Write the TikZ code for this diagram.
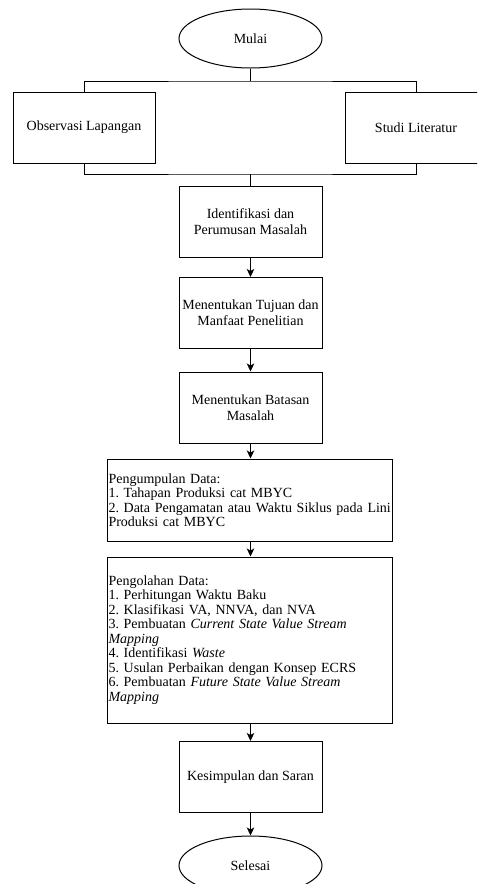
\documentclass[tikz,border=0pt]{standalone}
\usepackage{fontspec}
\setmainfont{Liberation Serif}
\usetikzlibrary{arrows.meta,shapes.geometric}
\begin{document}
\begin{tikzpicture}[x=1pt,y=-1pt,
  every node/.style={font=\fontsize{14}{16}\selectfont\frenchspacing},
  box/.style={draw, line width=1pt, minimum width=143pt, minimum height=71pt, align=center, inner sep=0pt},
  widebox/.style={draw, line width=1pt, minimum width=285pt, text width=283pt, inner xsep=1pt, inner ysep=0pt, align=left, font=\fontsize{14}{14.5}\selectfont\frenchspacing},
  term/.style={draw, ellipse, line width=1pt, minimum width=143pt, minimum height=59pt, inner sep=0pt},
  conn/.style={line width=1pt},
  arr/.style={line width=1pt, -{Stealth[length=8pt,width=7.5pt,inset=2pt]}}
]
\clip (0,0) rectangle (477,884);

\node[term] (mulai) at (250.5,38.5) {Mulai};
\node[box, minimum width=142pt] (obs) at (84,127.5) {Observasi Lapangan};
\node[box, minimum width=142pt] (studi) at (416,127.5) {Studi Literatur};
\node[box] (ident) at (250.5,222) {Identifikasi dan\\Perumusan Masalah};
\node[box] (tujuan) at (250.5,313) {Menentukan Tujuan dan\\Manfaat Penelitian};
\node[box] (batasan) at (250.5,407.5) {Menentukan Batasan\\Masalah};
\node[widebox, minimum height=82pt] (kumpul) at (250,500) {Pengumpulan Data:\\
1. Tahapan Produksi cat MBYC\\
2. Data Pengamatan atau Waktu Siklus pada Lini\\
Produksi cat MBYC};
\node[widebox, minimum height=166pt] (olah) at (250,640) {Pengolahan Data:\\
1. Perhitungan Waktu Baku\\
2. Klasifikasi VA, NNVA, dan NVA\\
3. Pembuatan \textit{Current State Value Stream}\\
\textit{Mapping}\\
4. Identifikasi \textit{Waste}\\
5. Usulan Perbaikan dengan Konsep ECRS\\
6. Pembuatan \textit{Future State Value Stream}\\
\textit{Mapping}};
\node[box] (simpul) at (250.5,777) {Kesimpulan dan Saran};
\node[term] (selesai) at (250.5,865.5) {Selesai};

\coordinate (j1) at (250.5,81);
\coordinate (j2) at (250.5,174);
\draw[conn] (mulai.south) -- (j1);
\draw[conn] (obs.north) |- (j1) -| (studi.north);
\draw[conn] (obs.south) |- (j2) -| (studi.south);
\draw[conn] (j2) -- (ident.north);

\draw[arr] (ident.south) -- (tujuan.north);
\draw[arr] (tujuan.south) -- (batasan.north);
\draw[arr] (batasan.south) -- (batasan.south |- kumpul.north);
\draw[arr] (kumpul.south -| batasan.south) -- (batasan.south |- olah.north);
\draw[arr] (olah.south -| simpul.north) -- (simpul.north);
\draw[arr] (simpul.south) -- (selesai.north);
\end{tikzpicture}
\end{document}
